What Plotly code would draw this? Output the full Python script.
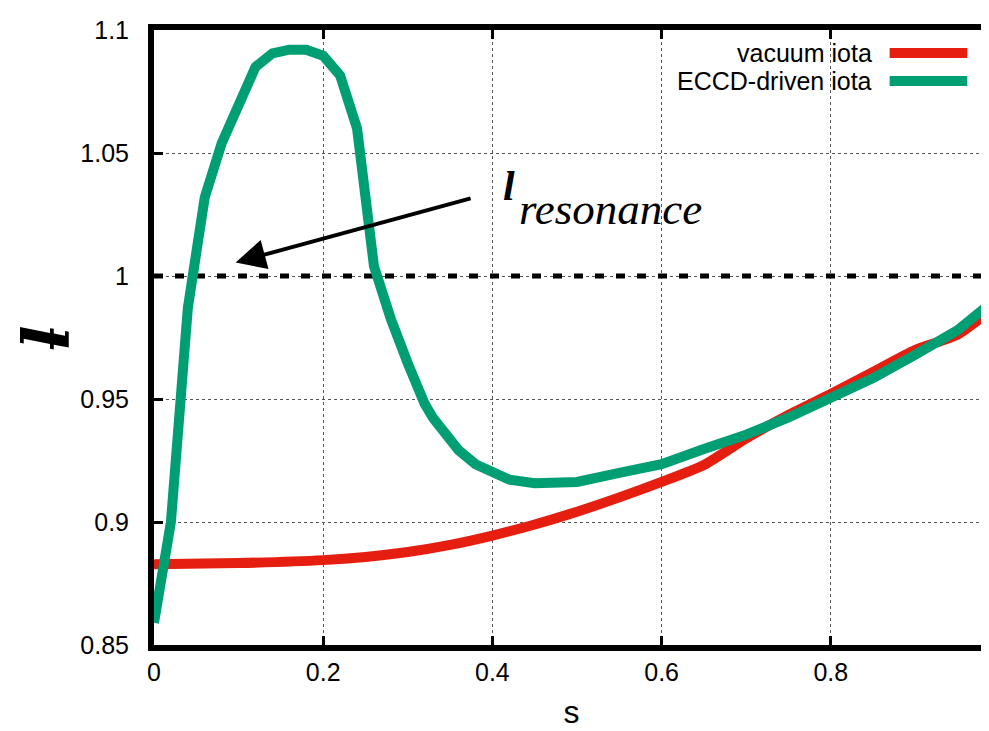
import plotly.graph_objects as go

# ---- data ----
s_vac = [0.0, 0.1, 0.2, 0.25, 0.3, 0.35, 0.4, 0.45, 0.5, 0.55, 0.6, 0.65, 0.7, 0.75, 0.8, 0.85, 0.9, 0.95, 1.0]
iota_vac = [0.8828, 0.8833, 0.8845, 0.8858, 0.8878, 0.8907, 0.8945, 0.899, 0.9042, 0.910, 0.9163,
            0.9232, 0.934, 0.9435, 0.952, 0.961, 0.970, 0.9762, 0.989]

s_eccd = [0.0, 0.02, 0.04, 0.06, 0.08, 0.10, 0.12, 0.14, 0.16, 0.18, 0.20, 0.22, 0.24, 0.26, 0.28,
          0.30, 0.31, 0.32, 0.33, 0.34, 0.36, 0.38, 0.40, 0.42, 0.45, 0.50, 0.55, 0.60, 0.65, 0.70,
          0.75, 0.80, 0.85, 0.90, 0.95, 1.00]
iota_eccd = [0.859, 0.900, 0.987, 1.032, 1.054, 1.070, 1.085, 1.0905, 1.092, 1.092, 1.0895, 1.0815,
             1.060, 1.004, 0.9825, 0.9645, 0.9558, 0.948, 0.9422, 0.9375, 0.9292, 0.9235, 0.9198,
             0.9172, 0.9158, 0.9163, 0.920, 0.9235, 0.9297, 0.9355, 0.9425, 0.950, 0.9585, 0.968,
             0.978, 0.992]

s_res = [0.0, 1.0]
iota_res = [1.0, 1.0]

x_ticks = [0, 0.2, 0.4, 0.6, 0.8]
x_ticklabels = ["0", "0.2", "0.4", "0.6", "0.8"]
y_ticks = [0.85, 0.9, 0.95, 1.0, 1.05, 1.1]
y_ticklabels = ["0.85", "0.9", "0.95", "1", "1.05", "1.1"]

series_names = ["vacuum iota", "ECCD-driven iota"]
RED = "#E51E10"
GREEN = "#009E73"

fig = go.Figure()
fig.add_trace(go.Scatter(x=s_res, y=iota_res, mode="lines",
                         line=dict(color="black", width=5, dash="9px,12px"),
                         showlegend=False, hoverinfo="skip"))
fig.add_trace(go.Scatter(x=s_vac, y=iota_vac, mode="lines", name=series_names[0],
                         line=dict(color=RED, width=10, shape="spline", smoothing=0.6),
                         showlegend=False))
fig.add_trace(go.Scatter(x=s_eccd, y=iota_eccd, mode="lines", name=series_names[1],
                         line=dict(color=GREEN, width=10), showlegend=False))

tickfont = dict(family="Liberation Sans, Arial, sans-serif", size=25, color="black")

fig.update_xaxes(range=[0, 0.987], tickvals=x_ticks, ticktext=x_ticklabels,
                 showline=True, linecolor="black", linewidth=6, mirror="allticks",
                 ticks="inside", ticklen=9, tickwidth=3, tickcolor="black",
                 showgrid=True, gridcolor="#555", gridwidth=1, griddash="dot",
                 zeroline=False, tickfont=tickfont, ticklabelstandoff=0, automargin=False,
                 title=dict(text="s", font=dict(family="Liberation Sans, Arial, sans-serif",
                                                size=32, color="black"), standoff=18))
fig.update_yaxes(range=[0.85, 1.1], tickvals=y_ticks, ticktext=y_ticklabels,
                 showline=True, linecolor="black", linewidth=6, mirror=False,
                 ticks="inside", ticklen=9, tickwidth=3, tickcolor="black",
                 showgrid=True, gridcolor="#555", gridwidth=1, griddash="dot",
                 zeroline=False, tickfont=tickfont, ticklabelstandoff=14, automargin=False,
                 title=dict(text="<b><i>ƚ</i></b>", font=dict(family="DejaVu Serif, serif",
                                                              size=64, color="black"), standoff=24))

# legend (text left, sample right)
leg_y = [0.9626, 0.917]
cols = [RED, GREEN]
for name, yy, c in zip(series_names, leg_y, cols):
    fig.add_annotation(xref="paper", yref="paper", x=0.862, y=yy, text=name, showarrow=False,
                       xanchor="right", yanchor="middle",
                       font=dict(family="Liberation Sans, Arial, sans-serif", size=25, color="black"))
    fig.add_shape(type="line", xref="paper", yref="paper", x0=0.881, x1=0.974, y0=yy, y1=yy,
                  line=dict(color=c, width=10))

# arrow
fig.add_annotation(xref="x", yref="y", axref="x", ayref="y", x=0.0965, y=1.0055, ax=0.376, ay=1.0317,
                   text="", showarrow=True, arrowhead=2, arrowsize=1.5, arrowwidth=4,
                   arrowcolor="black")
# resonance label
fig.add_annotation(xref="x", yref="y", x=0.410, y=1.0365, text="<b><i>l</i></b>", showarrow=False,
                   xanchor="left", yanchor="middle",
                   font=dict(family="Liberation Serif, Times New Roman, serif", size=42, color="black"))
fig.add_annotation(xref="x", yref="y", x=0.429, y=1.0273, text="<i>resonance</i>", showarrow=False,
                   xanchor="left", yanchor="middle",
                   font=dict(family="Liberation Serif, Times New Roman, serif", size=45, color="black"))

# the page body adds an 8px margin; size the figure so it fills the 989x731 window
fig.update_layout(width=981, height=723, margin=dict(l=146, r=0, t=22, b=86),
                  plot_bgcolor="white", paper_bgcolor="white", showlegend=False)

fig.write_html("out.html")
